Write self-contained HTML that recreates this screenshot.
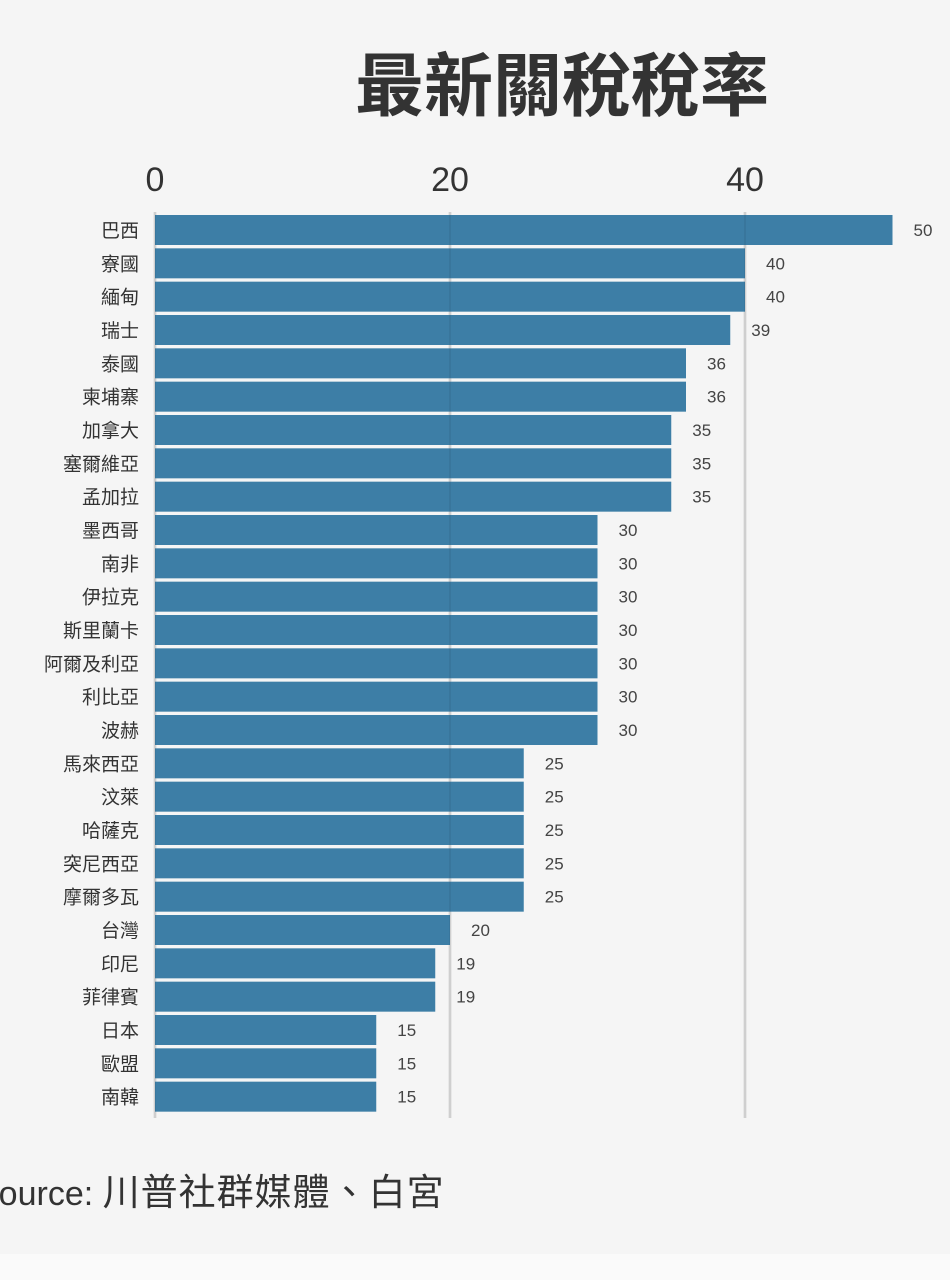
<!DOCTYPE html>
<html><head><meta charset="utf-8"><style>
html,body{margin:0;padding:0;background:#f5f5f5;}
body{width:950px;height:1280px;position:relative;overflow:hidden;font-family:"Liberation Sans","Noto Sans CJK TC",sans-serif;}
#strip{position:absolute;left:0;top:1254px;width:950px;height:26px;background:#fafafa;}
svg{position:absolute;left:0;top:0;}
</style></head><body>
<div id="strip"></div>
<svg id="chart" width="950" height="1280">
<text x="562" y="110" text-anchor="middle" font-size="69" font-weight="bold" fill="#333" font-family="'Liberation Sans','Noto Sans CJK TC',sans-serif">最新關稅稅率</text>
<text x="-24" y="1205" font-size="34" fill="#333" font-family="'Liberation Sans','Noto Sans CJK TC',sans-serif">Source: <tspan font-size="37" letter-spacing="1">川普社群媒體、白宮</tspan></text>
</svg>
<script>
const categories=["巴西","寮國","緬甸","瑞士","泰國","柬埔寨","加拿大","塞爾維亞","孟加拉","墨西哥","南非","伊拉克","斯里蘭卡","阿爾及利亞","利比亞","波赫","馬來西亞","汶萊","哈薩克","突尼西亞","摩爾多瓦","台灣","印尼","菲律賓","日本","歐盟","南韓"];
const values=[50,40,40,39,36,36,35,35,35,30,30,30,30,30,30,30,25,25,25,25,25,20,19,19,15,15,15];
const tickValues=[0,20,40];
const svg=document.getElementById('chart');
const NS='http://www.w3.org/2000/svg';
const x0=155,scale=14.75,top0=215,band=900/categories.length,bh=30;
const xs=v=>x0+v*scale;
const ys=i=>top0+i*band;
function mk(tag,attrs){const e=document.createElementNS(NS,tag);for(const k in attrs)e.setAttribute(k,attrs[k]);svg.appendChild(e);return e;}
const font="'Liberation Sans','Noto Sans CJK TC',sans-serif";
tickValues.forEach(t=>{
  const tx=mk('text',{x:xs(t),y:191,'text-anchor':'middle','font-size':34,fill:'#333','font-family':font});
  tx.textContent=t;
  
  
  const g=mk('line',{x1:xs(t),x2:xs(t),y1:212,y2:1118,stroke:'#dcdcdc','stroke-width':3});
  
  
});
categories.forEach((c,i)=>{
  const r=mk('rect',{x:x0,y:ys(i),width:xs(values[i])-x0,height:bh,fill:'#3d7ea6'});
  
  
  const l=mk('text',{x:139,y:ys(i)+bh/2+7,'text-anchor':'end','font-size':19,fill:'#333','font-family':font});
  l.textContent=c;
  
  
  const v=mk('text',{x:xs(values[i])+21,y:ys(i)+bh/2+6,'text-anchor':'start','font-size':17,fill:'#444','font-family':font});
  v.textContent=values[i];
  
  
});
tickValues.forEach(t=>{
  const g=mk('line',{x1:xs(t),x2:xs(t),y1:212,y2:1118,stroke:'#000','stroke-width':2,'stroke-opacity':0.06});
  
  
});
</script>
</body></html>
